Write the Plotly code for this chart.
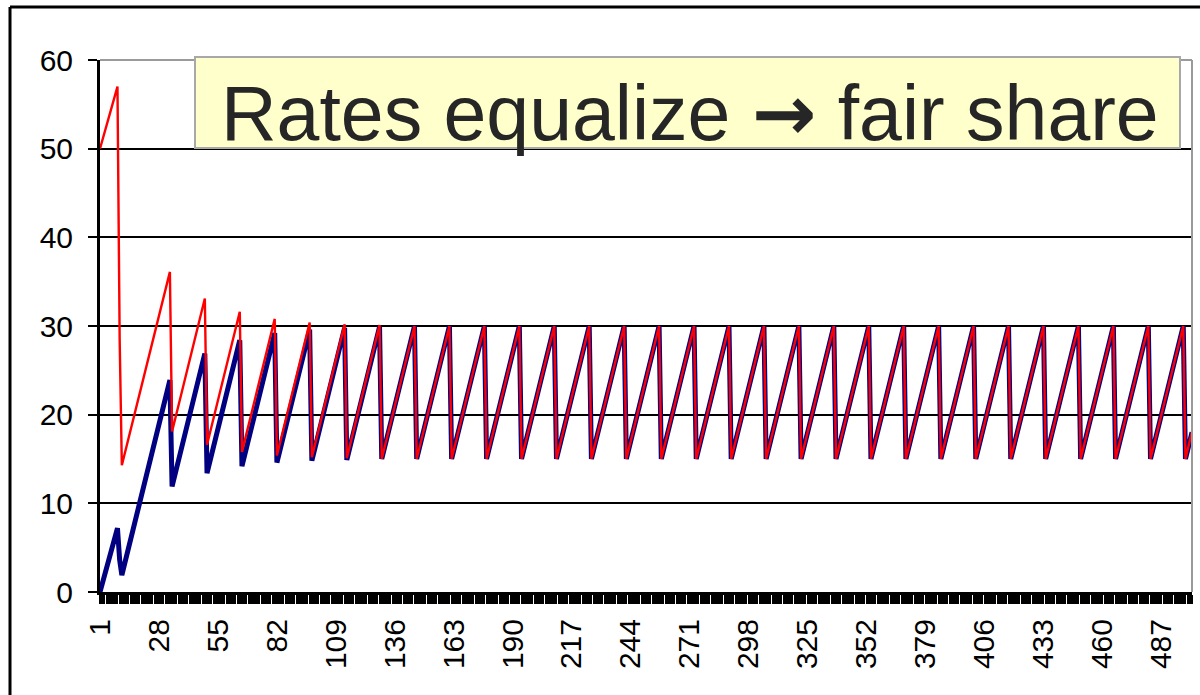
"""AIMD sawtooth: two flows converging to a fair share."""

import plotly.graph_objects as go

FONT = "Liberation Sans, Arial, sans-serif"
C_RED = "#ff0000"
C_NAVY = "#000080"
C_FRAME = "#9a9a9a"

# category axis 1..501, labels every 27
X_MAX = 501
TICK_LABELS = [1, 28, 55, 82, 109, 136, 163, 190, 217, 244, 271, 298, 325,
               352, 379, 406, 433, 460, 487]

# turning points (category, value)
START_CAT = [1, 9, 10, 11]
RED_START = [50, 57, 28.5, 14.3]
BLUE_START = [0, 7.2, 3.6, 1.9]

PEAK_CAT = [33, 49, 65, 81, 97, 113, 129, 145, 161, 177, 193, 209, 225, 241, 257,
            273, 289, 305, 321, 337, 353, 369, 385, 401, 417, 433, 449, 465, 481, 497]
TROUGH_CAT = [34, 50, 66, 82, 98, 114, 130, 146, 162, 178, 194, 210, 226, 242, 258,
              274, 290, 306, 322, 338, 354, 370, 386, 402, 418, 434, 450, 466, 482, 498]

RED_PEAK = [36.1, 33.1, 31.6, 30.8, 30.4, 30.2, 30.1, 30, 30, 30, 30, 30, 30, 30, 30,
            30, 30, 30, 30, 30, 30, 30, 30, 30, 30, 30, 30, 30, 30, 30]
RED_TROUGH = [18.1, 16.6, 15.8, 15.4, 15.2, 15.1, 15, 15, 15, 15, 15, 15, 15, 15, 15,
              15, 15, 15, 15, 15, 15, 15, 15, 15, 15, 15, 15, 15, 15, 15]
BLUE_PEAK = [23.9, 26.9, 28.4, 29.2, 29.6, 29.8, 29.9, 30, 30, 30, 30, 30, 30, 30, 30,
             30, 30, 30, 30, 30, 30, 30, 30, 30, 30, 30, 30, 30, 30, 30]
BLUE_TROUGH = [11.9, 13.4, 14.2, 14.6, 14.8, 14.9, 15, 15, 15, 15, 15, 15, 15, 15, 15,
               15, 15, 15, 15, 15, 15, 15, 15, 15, 15, 15, 15, 15, 15, 15]

END_CAT = 501
RED_END = 18.1
BLUE_END = 18.0

ARROW = "<span style='font-family:DejaVu Sans'><b>\u2192</b></span>"
TITLE = f"Rates equalize {ARROW} fair share"


def _series(start_y, peaks, troughs, end_y):
    xs, ys = list(START_CAT), list(start_y)
    for pc, pv, tc, tv in zip(PEAK_CAT, peaks, TROUGH_CAT, troughs):
        xs += [pc, tc]
        ys += [pv, tv]
    xs.append(END_CAT)
    ys.append(end_y)
    return xs, ys


bx, by = _series(BLUE_START, BLUE_PEAK, BLUE_TROUGH, BLUE_END)
rx, ry = _series(RED_START, RED_PEAK, RED_TROUGH, RED_END)

fig = go.Figure()
fig.add_trace(go.Scatter(x=bx, y=by, mode="lines",
                         line={"color": C_NAVY, "width": 5}, hoverinfo="skip"))
fig.add_trace(go.Scatter(x=rx, y=ry, mode="lines",
                         line={"color": C_RED, "width": 2.4}, hoverinfo="skip"))

# plot area: x 100..1192 px, y 60..592 px
L, R, T, B = 100, 8, 60, 103
PW, PH = 1200 - L - R, 695 - T - B


def px_x(p):
    return (p - L) / PW


def px_y(p):
    return (T + PH - p) / PH


# grey top/right border of the plot area
fig.add_shape(type="line", xref="paper", yref="paper", x0=0, x1=1, y0=1, y1=1,
              line={"color": C_FRAME, "width": 2})
fig.add_shape(type="line", xref="paper", yref="paper", x0=1, x1=1, y0=0, y1=1,
              line={"color": C_FRAME, "width": 2})
# outer chart frame (left + top)
fig.add_shape(type="line", xref="paper", yref="paper",
              x0=px_x(10), x1=px_x(10), y0=px_y(7), y1=px_y(700),
              line={"color": "black", "width": 3})
fig.add_shape(type="line", xref="paper", yref="paper",
              x0=px_x(10), x1=px_x(1205), y0=px_y(7), y1=px_y(7),
              line={"color": "black", "width": 3})
# title box
fig.add_shape(type="rect", xref="paper", yref="paper",
              x0=px_x(195), x1=px_x(1180), y0=px_y(148), y1=px_y(57),
              fillcolor="#ffffcc", line={"color": "#a8a8a8", "width": 2})
fig.add_annotation(xref="paper", yref="paper", x=px_x(690), y=px_y(114),
                   text=TITLE, showarrow=False, xanchor="center", yanchor="middle",
                   font={"family": FONT, "size": 77, "color": "#262626"})

fig.update_xaxes(
    range=[1, X_MAX], tickmode="array", tickvals=TICK_LABELS,
    ticktext=[str(t) for t in TICK_LABELS], tickangle=-90,
    ticks="outside", ticklen=9, tickwidth=1.5, tickcolor="black",
    minor={"ticks": "outside", "ticklen": 9, "tickwidth": 1.5, "tickcolor": "black",
           "tick0": 1, "dtick": 1, "showgrid": False},
    showline=True, linecolor="black", linewidth=3,
    showgrid=False, zeroline=False,
    tickfont={"family": FONT, "size": 30, "color": "black"},
    ticklabelstandoff=3,
)
fig.update_yaxes(
    range=[0, 60], dtick=10, tick0=0,
    ticks="outside", ticklen=9, tickwidth=2, tickcolor="black",
    showline=True, linecolor="black", linewidth=3,
    showgrid=True, gridcolor="black", gridwidth=2, zeroline=False,
    tickfont={"family": FONT, "size": 30, "color": "black"},
    ticklabelstandoff=9,
)
fig.update_layout(
    width=1200, height=695,
    margin=dict(l=L, r=R, t=T, b=B),
    paper_bgcolor="white", plot_bgcolor="white",
    showlegend=False,
)

fig.write_html("out.html", config={"displayModeBar": False},
               post_script="document.body.style.margin='0';")
